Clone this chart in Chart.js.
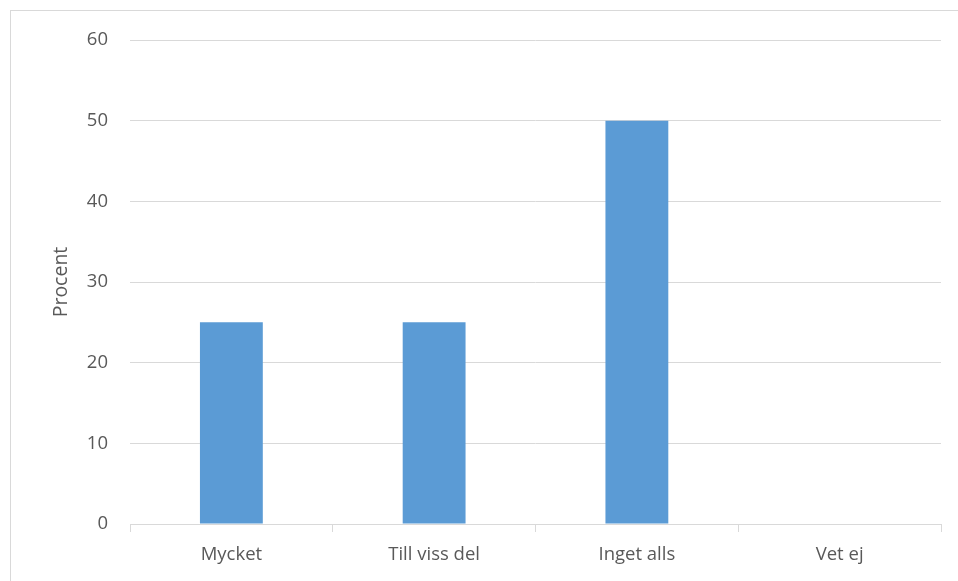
<!DOCTYPE html>
<html>
<head>
<meta charset="utf-8">
<script src="https://cdn.jsdelivr.net/npm/chart.js@4"></script>
<style>
  html, body { margin: 0; padding: 0; background: #fff; }
  #wrap { position: relative; width: 958px; height: 581px; overflow: hidden; }
  #frame { position: absolute; left: 10px; top: 10px; width: 960px; height: 600px; border: 1px solid #d9d9d9; box-sizing: border-box; }
  canvas { position: absolute; left: 0; top: 0; }
</style>
</head>
<body>
<div id="wrap">
  <div id="frame"></div>
  <canvas id="chart" width="958" height="581"></canvas>
</div>
<script>
// chart data
const categories = ['Mycket', 'Till viss del', 'Inget alls', 'Vet ej'];
const values = [25, 25, 50, 0];
const yTicks = [0, 10, 20, 30, 40, 50, 60];

const textColor = '#595959';
const gridColor = '#d9d9d9';
const font = { family: "'Open Sans', 'Noto Sans', sans-serif", size: 18.5 };

const ctx = document.getElementById('chart').getContext('2d');
new Chart(ctx, {
    type: 'bar',
    data: {
        labels: categories,
        datasets: [{
            label: 'Procent',
            data: values,
            backgroundColor: '#5b9bd5',
            borderWidth: 0,
            barPercentage: 0.31,
            categoryPercentage: 1
        }]
    },
    options: {
        responsive: false,
        animation: false,
        layout: { padding: { left: 0, right: 17, top: 40, bottom: 0 } },
        plugins: {
            legend: { display: false },
            tooltip: { enabled: false }
        },
        scales: {
            x: {
                grid: { offset: true, drawOnChartArea: false, color: gridColor, tickLength: 8, lineWidth: 1 },
                border: { color: gridColor, width: 1 },
                ticks: { color: textColor, font: font, padding: 12 },
                afterFit: (scale) => { scale.height = 57; }
            },
            y: {
                min: 0,
                max: 60,
                afterBuildTicks: (scale) => { scale.ticks = yTicks.map(v => ({ value: v })); },
                grid: { color: gridColor, drawTicks: false },
                border: { display: false },
                ticks: { color: textColor, font: font, padding: 22 },
                title: {
                    display: true,
                    text: 'Procent',
                    color: textColor,
                    font: { family: font.family, size: 19.5 },
                    padding: { top: 50, bottom: 0 }
                },
                afterFit: (scale) => { scale.width = 130; }
            }
        }
    }
});
</script>
</body>
</html>
